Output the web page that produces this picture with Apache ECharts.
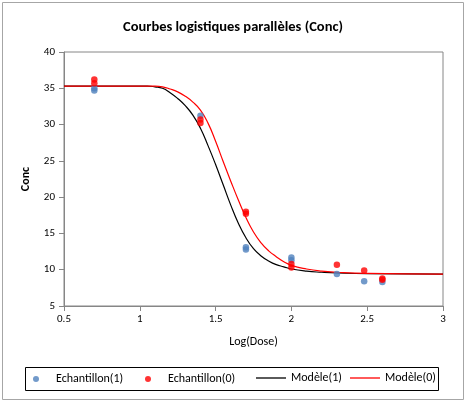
<!DOCTYPE html>
<html>
<head>
<meta charset="utf-8">
<script src="https://cdn.jsdelivr.net/npm/echarts@6/dist/echarts.min.js"></script>
<style>
  html, body { margin: 0; padding: 0; background: #fff; }
  #chart { width: 466px; height: 404px; }
</style>
</head>
<body>
<div id="chart"></div>
<script>
// points : [log(dose), conc]
const echantillon1 = [
  [0.7, 34.7], [0.7, 35.0], [1.4, 31.2], [1.7, 12.8], [1.7, 13.1],
  [2.0, 11.7], [2.0, 11.3], [2.3, 9.4], [2.48, 8.4], [2.6, 8.3]
]
const echantillon0 = [
  [0.7, 36.2], [0.7, 35.7], [1.4, 30.7], [1.4, 30.2], [1.7, 18.0], [1.7, 17.7],
  [2.0, 10.8], [2.0, 10.3], [2.3, 10.7], [2.48, 9.9], [2.6, 8.8], [2.6, 8.6]
]
// courbes modèle (valeurs lues)
const modele1 = [
  [0.5, 35.3], [1.0, 35.3], [1.05, 35.3], [1.1, 35.2], [1.15, 35.0], [1.2, 34.4],
  [1.25, 33.6], [1.3, 32.6], [1.35, 31.3], [1.4, 29.5], [1.45, 27.1], [1.5, 24.5],
  [1.55, 21.7], [1.6, 18.9], [1.65, 16.4], [1.7, 14.4], [1.75, 12.9], [1.8, 11.9],
  [1.85, 11.2], [1.9, 10.7], [1.95, 10.4], [2.0, 10.1], [2.1, 9.8], [2.2, 9.65],
  [2.3, 9.55], [2.5, 9.45], [3.0, 9.4]
]
const modele0 = [
  [0.5, 35.3], [1.0, 35.3], [1.1, 35.3], [1.15, 35.2], [1.2, 34.9], [1.25, 34.5],
  [1.3, 33.9], [1.35, 33.1], [1.4, 32.0], [1.45, 30.2], [1.5, 27.7], [1.55, 24.9],
  [1.6, 22.2], [1.65, 19.6], [1.7, 17.2], [1.75, 15.2], [1.8, 13.7], [1.85, 12.6],
  [1.9, 11.8], [1.95, 11.1], [2.0, 10.6], [2.1, 10.1], [2.2, 9.8], [2.3, 9.65],
  [2.5, 9.5], [3.0, 9.4]
]
const seriesNames = ['Echantillon(1)', 'Echantillon(0)', 'Modèle(1)', 'Modèle(0)']

const font = 'Carlito, "Liberation Sans", Arial, sans-serif'
const axisGray = '#868686'

const chart = echarts.init(document.getElementById('chart'))

// une légende par élément pour caler les positions
const legendLefts = [33, 145, 256, 350]
const legends = seriesNames.map((name, i) => ({
  data: [{ name: name, icon: i < 2 ? 'circle' : 'rect' }],
  left: legendLefts[i],
  top: i < 2 ? 373 : 372,
  padding: 0,
  itemWidth: 30,
  itemHeight: i < 2 ? 6 : 1.3,
  itemGap: 0,
  textStyle: { fontFamily: font, fontSize: 12, color: '#000' }
}))

const option = {
  animation: false,
  backgroundColor: '#fff',
  title: {
    text: 'Courbes logistiques parallèles (Conc)',
    left: 'center',
    top: 15,
    textStyle: { fontFamily: font, fontSize: 14.5, fontWeight: 'bold', color: '#000' }
  },
  legend: legends,
  graphic: [
    {
      type: 'rect',
      shape: { x: 2.5, y: 2.5, width: 461, height: 397 },
      style: { fill: 'none', stroke: '#a6a6a6', lineWidth: 1 },
      silent: true
    },
    {
      type: 'rect',
      shape: { x: 25.5, y: 367.5, width: 413, height: 23 },
      style: { fill: 'none', stroke: '#000', lineWidth: 1 },
      silent: true
    }
  ],
  grid: {
    left: 64,
    right: 23,
    top: 52,
    bottom: 98,
    show: true,
    borderColor: axisGray,
    borderWidth: 1
  },
  xAxis: {
    type: 'value',
    min: 0.5,
    max: 3,
    interval: 0.5,
    name: 'Log(Dose)',
    nameLocation: 'middle',
    nameGap: 30,
    nameTextStyle: { fontFamily: font, fontSize: 12, color: '#000' },
    axisLine: { lineStyle: { color: axisGray } },
    axisTick: { show: true, length: 5, lineStyle: { color: axisGray } },
    axisLabel: { fontFamily: font, fontSize: 11, color: '#000', margin: 8 },
    splitLine: { show: false }
  },
  yAxis: {
    type: 'value',
    min: 5,
    max: 40,
    interval: 5,
    name: 'Conc',
    nameLocation: 'middle',
    nameGap: 32,
    nameTextStyle: { fontFamily: font, fontSize: 12, fontWeight: 'bold', color: '#000' },
    axisLine: { show: true, lineStyle: { color: axisGray } },
    axisTick: { show: true, length: 5, lineStyle: { color: axisGray } },
    axisLabel: { fontFamily: font, fontSize: 11, color: '#000', margin: 9 },
    splitLine: { show: false }
  },
  series: [
    {
      name: seriesNames[0],
      type: 'scatter',
      data: echantillon1,
      symbolSize: 6.5,
      itemStyle: { color: '#4f81bd' },
      z: 4
    },
    {
      name: seriesNames[1],
      type: 'scatter',
      data: echantillon0,
      symbolSize: 6.5,
      itemStyle: { color: '#ff0000' },
      z: 5
    },
    {
      name: seriesNames[2],
      type: 'line',
      data: modele1,
      smooth: true,
      symbol: 'none',
      itemStyle: { color: '#000' },
      lineStyle: { color: '#000', width: 1.2 },
      z: 2
    },
    {
      name: seriesNames[3],
      type: 'line',
      data: modele0,
      smooth: true,
      symbol: 'none',
      itemStyle: { color: '#ff0000' },
      lineStyle: { color: '#ff0000', width: 1.2 },
      z: 3
    }
  ]
}
chart.setOption(option)
</script>
</body>
</html>
